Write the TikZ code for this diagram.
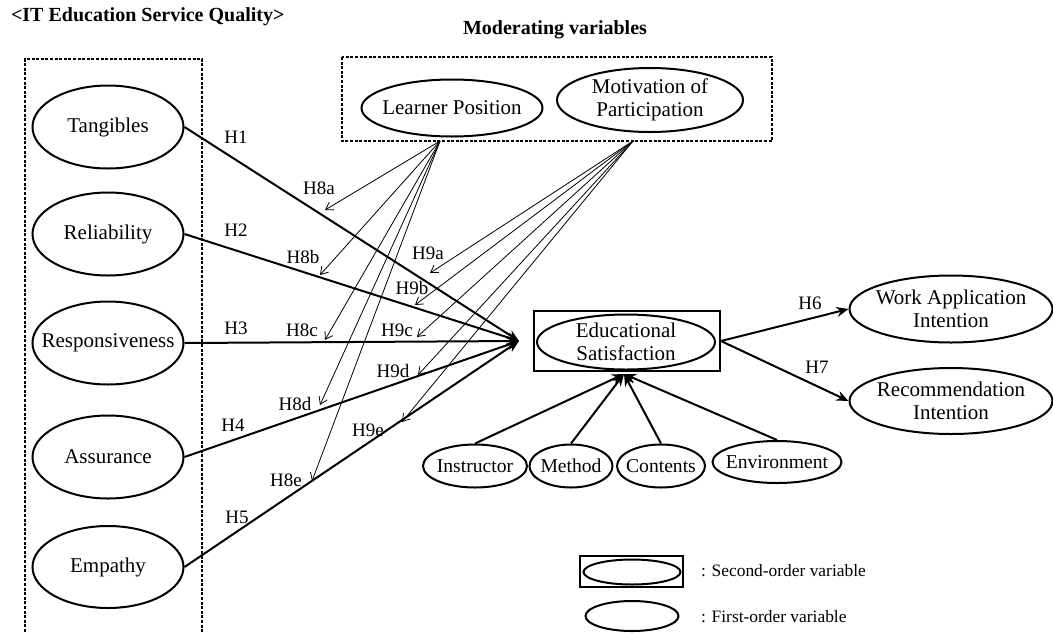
\documentclass[tikz,border=0pt]{standalone}
\usepackage{fontspec}
\setmainfont{Liberation Serif}
\usetikzlibrary{shapes.geometric,arrows.meta}

\begin{document}
\begin{tikzpicture}[x=0.5pt,y=-0.5pt,
  var/.style={draw, ellipse, line width=1pt, inner xsep=-12pt, inner ysep=-1pt,
    align=center, font=\fontsize{10.5}{11.5}\selectfont},
  subvar/.style={var, font=\fontsize{9.8}{11}\selectfont, minimum height=21.5pt},
  hyp/.style={font=\fontsize{9.5}{11}\selectfont},
  effect/.style={line width=1pt, -{Stealth[length=6pt,width=5pt]}},
  modarrow/.style={line width=0.4pt, -{Straight Barb[length=3.5pt,width=4.5pt]}},
  groupbox/.style={line width=0.6pt, dash pattern=on 1.5pt off 0.8pt},
  heading/.style={font=\bfseries\fontsize{10}{12}\selectfont}]
\useasboundingbox (0,0) rectangle (1053,632);

% headings and group boxes
\node[heading, anchor=west] (title) at (4,17) {<IT Education Service Quality>};
\node[heading] (modtitle) at (555,30) {Moderating variables};
\draw[groupbox] (25,632) -- (25,59) -- (202,59) -- (202,632);
\draw[groupbox] (342,57) rectangle (772,141);

% service quality dimensions
\node[var, minimum width=75.5pt, minimum height=41.5pt] (tang) at (108,127) {Tangibles};
\node[var, minimum width=75.5pt, minimum height=41.5pt] (reli) at (108,234) {Reliability};
\node[var, minimum width=75.5pt, minimum height=41.5pt] (resp) at (108,343) {Responsiveness};
\node[var, minimum width=75.5pt, minimum height=41.5pt] (assu) at (108,457) {Assurance};
\node[var, minimum width=75.5pt, minimum height=41pt] (empa) at (108,567) {Empathy};

% moderators
\node[var, minimum width=90.5pt, minimum height=28.5pt] (lpos) at (452,108) {Learner Position};
\node[var, minimum width=93pt, minimum height=32pt] (moti) at (650,100) {Motivation of\\Participation};
\coordinate (lp) at (440,141);
\coordinate (mp) at (633,141);

% educational satisfaction (second order)
\node[draw, line width=1pt, minimum width=93pt, minimum height=30pt] (esbox) at (627,341) {};
\node[var, minimum width=89pt, minimum height=27.5pt] (es) at (626,342) {Educational\\Satisfaction};
\coordinate (esin) at (519,341);
\coordinate (esbot) at (624,374);

\node[subvar, minimum width=52pt] (inst) at (475,466) {Instructor};
\node[subvar, minimum width=41.5pt] (meth) at (571,466) {Method};
\node[subvar, minimum width=44pt] (cont) at (661,466) {Contents};
\node[subvar, minimum width=64.5pt, minimum height=21pt] (envi) at (777,462) {Environment};

% outcomes
\node[var, minimum width=101.5pt, minimum height=33.5pt] (work) at (951,309) {Work Application\\Intention};
\node[var, minimum width=101.5pt, minimum height=33pt] (reco) at (951,401) {Recommendation\\Intention};

% main paths
\draw[effect] (tang.east) -- (esin);
\draw[effect] (reli.east) -- (esin);
\draw[effect] (resp.east) -- (esin);
\draw[effect] (assu.east) -- (esin);
\draw[effect] (empa.east) -- (esin);
\draw[effect] (inst.north) -- (esbot);
\draw[effect] (meth.north) -- (esbot);
\draw[effect] (cont.north) -- (esbot);
\draw[effect] (envi.north) -- (esbot);
\draw[effect] (esbox.east) -- (work.west);
\draw[effect] (esbox.east) -- (reco.west);

\node[hyp] (h1) at (236,137) {H1};
\node[hyp] (h2) at (236,230) {H2};
\node[hyp] (h3) at (236,328) {H3};
\node[hyp] (h4) at (233,425) {H4};
\node[hyp] (h5) at (237,517) {H5};
\node[hyp] (h6) at (810,303) {H6};
\node[hyp] (h7) at (817,367) {H7};

% moderating effects
\coordinate (t8a) at (325,210);
\coordinate (t8b) at (320,275);
\coordinate (t8c) at (325,340);
\coordinate (t8d) at (320,405);
\coordinate (t8e) at (312,481);
\coordinate (t9a) at (430,273);
\coordinate (t9b) at (415,305);
\coordinate (t9c) at (417,337);
\coordinate (t9d) at (418,375);
\coordinate (t9e) at (402,422);
\draw[modarrow] (lp) -- (t8a);
\draw[modarrow] (lp) -- (t8b);
\draw[modarrow] (lp) -- (t8c);
\draw[modarrow] (lp) -- (t8d);
\draw[modarrow] (lp) -- (t8e);
\draw[modarrow] (mp) -- (t9a);
\draw[modarrow] (mp) -- (t9b);
\draw[modarrow] (mp) -- (t9c);
\draw[modarrow] (mp) -- (t9d);
\draw[modarrow] (mp) -- (t9e);

\node[hyp] (h8a) at (319,188) {H8a};
\node[hyp] (h8b) at (303,257) {H8b};
\node[hyp] (h8c) at (302,330) {H8c};
\node[hyp] (h8d) at (295,404) {H8d};
\node[hyp] (h8e) at (286,480) {H8e};
\node[hyp] (h9a) at (428,253) {H9a};
\node[hyp] (h9b) at (412,288) {H9b};
\node[hyp] (h9c) at (397,330) {H9c};
\node[hyp] (h9d) at (393,371) {H9d};
\node[hyp] (h9e) at (368,430) {H9e};

% legend
\node[draw, line width=1pt, minimum width=51.5pt, minimum height=15.5pt] (lgbox) at (631.5,571.5) {};
\node[var, minimum width=48.5pt, minimum height=12.5pt] (lgsec) at (632,572) {};
\node[var, minimum width=46.5pt, minimum height=15pt] (lgfirst) at (632,616) {};
\node[anchor=west, font=\fontsize{8.7}{10}\selectfont] (lgsectext) at (694,571) {: Second-order variable};
\node[anchor=west, font=\fontsize{8.7}{10}\selectfont] (lgfirsttext) at (694,617) {: First-order variable};
\end{tikzpicture}
\end{document}
